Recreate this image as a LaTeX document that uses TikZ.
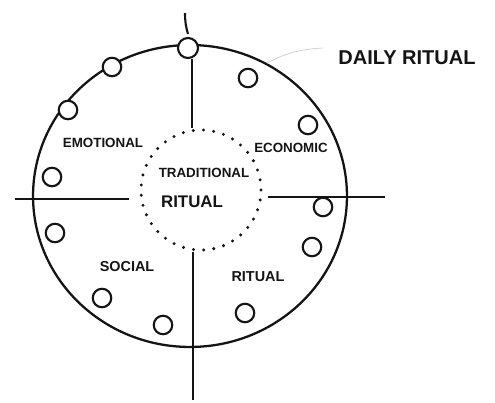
\documentclass[tikz,border=0pt]{standalone}
\usepackage{fontspec}
\setmainfont{Liberation Sans}
\usepackage{tikz}
\usetikzlibrary{shapes.geometric, positioning, calc}
\definecolor{mydark}{RGB}{20,20,20}
\definecolor{mygrey}{RGB}{205,205,205}
\tikzset{
  ring/.style={ellipse, draw=mydark, line width=1.3pt,
    minimum width=6.28cm, minimum height=6.04cm, inner sep=0pt},
  hub/.style={circle, draw=mydark, line width=1.9pt,
    dash pattern=on 0pt off 5.8pt, line cap=round,
    minimum size=2.4cm, inner sep=0pt},
  bead/.style={circle, draw=mydark, fill=white, line width=1.2pt,
    minimum size=0.37cm, inner sep=0pt},
  tag/.style={font=\fontsize{7.6}{9}\selectfont\bfseries, text=mydark, inner sep=0pt},
  line/.style={line width=1.2pt, color=mydark}
}

\begin{document}
\begin{tikzpicture}[x=0.02cm, y=-0.02cm]
  \useasboundingbox (0,0) rectangle (495,403);

  % outer ring and inner hub
  \node[ring] (ring) at (190,196) {};
  \node[hub] (hub) at (201,190) {};

  % axes
  \node[bead, minimum size=0.4cm] (top) at (188,48) {};
  \coordinate (tip) at (185,13);
  \coordinate (foot) at (193,400);
  \coordinate (wend) at (15,199);
  \coordinate (eend) at (385,197);
  \draw[line] ([yshift=0.06cm]top.north) to[bend left=8] (tip);
  \draw[line] ([xshift=0.08cm]top.south) -- ([xshift=0.08cm]top.south |- hub.north);
  \draw[line] (foot |- hub.south) -- (foot);
  \draw[line] (wend) -- ([xshift=-0.2cm]hub.west |- wend);
  \draw[line] ([xshift=0.1cm]hub.east |- eend) -- (eend);

  % beads round the ring
  \foreach \x/\y [count=\i] in {112/67, 68/110, 52/177, 55/233, 102/298, 163/325,
                                248/78, 308/125, 323/207, 312/247, 245/313}
    \node[bead] (b\i) at (\x,\y) {};

  % labels
  \node[tag] (emo) at (103,143) {EMOTIONAL};
  \node[tag] (eco) at (291,148) {ECONOMIC};
  \node[tag] (trad) at (204,173) {TRADITIONAL};
  \node[tag, font=\fontsize{9.6}{12}\selectfont\bfseries] (rit) at (192,202) {RITUAL};
  \node[tag, font=\fontsize{8.2}{10}\selectfont\bfseries] (soc) at (127,267) {SOCIAL};
  \node[tag, font=\fontsize{8.2}{10}\selectfont\bfseries] (ritb) at (258,277) {RITUAL};
  \node[tag, font=\fontsize{11.4}{13}\selectfont\bfseries] (daily) at (407,58) {DAILY RITUAL};
  \draw[mygrey, thin] (ring.60) to[bend left=12] ([xshift=-0.3cm, yshift=0.2cm]daily.west);
\end{tikzpicture}
\end{document}
